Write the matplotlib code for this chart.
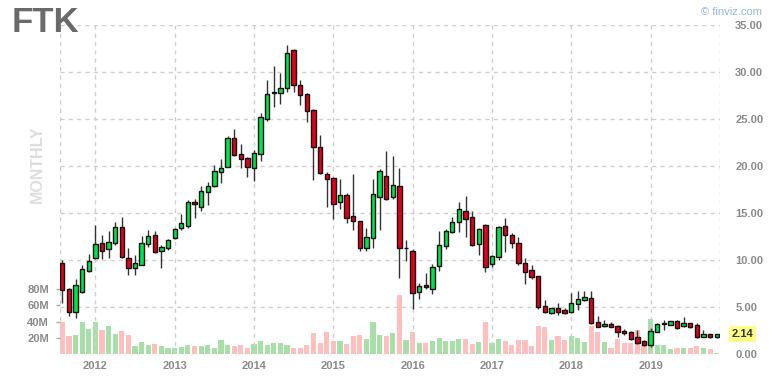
import matplotlib
matplotlib.use("Agg")
import matplotlib.pyplot as plt
import numpy as np

plt.rcParams['font.family'] = ['Liberation Sans', 'DejaVu Sans']

# monthly bars, Aug 2011 .. Nov 2019
first_year, first_month = 2011, 8

opens = [9.65, 6.9, 4.45, 6.6, 8.85, 10.2, 11.8, 11.2, 11.8, 13.5,
         10.2, 9.2, 9.5, 11.7, 12.7, 10.95, 11.25, 12.3, 13.4, 13.6,
         16.2, 15.6, 17.2, 17.9, 19.4, 19.9, 23.0, 21.3, 20.8, 19.8,
         21.3, 25.0, 27.8, 27.8, 28.3, 32.3, 28.6, 27.7, 26.0, 22.0,
         19.2, 18.7, 16.2, 16.9, 14.7, 14.15, 11.3, 12.35, 16.7, 18.9,
         16.7, 17.9, 11.3, 11.0, 6.6, 7.3, 6.9, 9.35, 11.5, 13.0,
         14.05, 15.25, 14.55, 11.7, 13.7, 9.6, 10.3, 13.6, 12.65, 11.8,
         9.65, 8.9, 8.3, 5.1, 4.35, 4.85, 4.7, 4.5, 5.3, 5.75,
         6.0, 3.4, 3.0, 3.2, 3.0, 2.45, 2.35, 1.8, 1.4, 0.95,
         2.35, 3.2, 3.1, 3.5, 3.0, 3.3, 3.1, 1.85, 2.1, 1.8]
closes = [6.8, 4.45, 7.3, 9.0, 9.9, 11.7, 11.0, 11.9, 13.5, 10.3,
          9.1, 9.65, 11.8, 12.6, 10.8, 11.4, 12.1, 13.3, 13.9, 16.2,
          15.95, 17.3, 17.9, 19.5, 19.8, 23.0, 21.2, 20.7, 19.9, 21.4,
          25.2, 27.7, 27.9, 28.3, 32.0, 28.6, 27.55, 25.85, 22.0, 19.3,
          18.6, 16.0, 16.9, 14.5, 14.15, 11.3, 12.45, 17.0, 19.5, 16.5,
          18.0, 11.3, 11.3, 6.5, 7.2, 7.1, 9.3, 11.6, 13.1, 14.05,
          15.4, 14.35, 11.6, 13.3, 9.25, 10.4, 13.5, 12.65, 11.8, 9.65,
          8.75, 8.2, 5.0, 4.5, 4.85, 4.5, 4.4, 5.4, 5.85, 6.1,
          3.3, 2.9, 3.2, 2.9, 2.35, 2.2, 1.55, 1.15, 0.95, 2.45,
          3.2, 3.3, 3.5, 2.75, 3.3, 2.85, 1.8, 2.1, 1.8, 2.14]
highs = [10.0, 7.0, 8.0, 9.5, 10.6, 13.7, 12.7, 13.1, 14.0, 14.6,
         11.3, 10.5, 12.6, 13.2, 13.1, 11.6, 12.2, 13.4, 14.9, 16.4,
         16.5, 17.9, 18.3, 20.1, 20.7, 23.2, 23.9, 22.3, 21.0, 21.7,
         25.6, 29.1, 30.6, 29.9, 32.9, 32.5, 29.1, 27.8, 26.1, 23.3,
         19.4, 18.8, 18.6, 17.1, 19.2, 14.2, 13.4, 18.6, 19.7, 21.6,
         21.1, 19.8, 12.1, 11.15, 7.55, 8.6, 9.6, 13.1, 13.3, 14.6,
         16.2, 16.8, 15.25, 13.4, 13.8, 10.5, 13.6, 14.45, 12.9, 12.4,
         10.2, 9.5, 8.3, 5.75, 4.9, 5.4, 4.85, 6.5, 6.7, 6.7,
         6.7, 4.0, 3.6, 3.4, 3.1, 2.65, 2.4, 2.55, 1.45, 2.75,
         3.3, 3.6, 3.55, 3.6, 3.95, 3.35, 3.3, 2.55, 2.15, 2.18]
lows = [5.4, 4.0, 3.8, 6.5, 8.7, 10.1, 10.1, 10.2, 11.6, 10.2,
        8.4, 8.4, 9.45, 11.4, 10.7, 9.1, 11.1, 12.2, 13.2, 13.4,
        14.5, 15.2, 15.85, 17.8, 18.2, 19.9, 21.1, 19.8, 18.8, 18.4,
        20.5, 24.8, 26.3, 26.6, 27.9, 27.9, 26.5, 24.7, 18.5, 19.15,
        15.6, 14.35, 15.4, 13.9, 13.2, 11.0, 11.0, 11.3, 13.2, 16.4,
        16.5, 8.1, 9.9, 4.8, 5.85, 6.9, 6.4, 8.85, 11.2, 12.9,
        13.0, 12.4, 11.5, 10.5, 8.7, 9.25, 10.0, 10.9, 11.25, 9.45,
        7.5, 8.0, 4.8, 4.4, 4.25, 4.15, 4.25, 4.4, 4.7, 5.65,
        3.2, 2.85, 2.9, 2.85, 1.85, 2.0, 1.5, 1.05, 0.85, 0.75,
        2.3, 2.55, 3.05, 2.7, 2.9, 2.75, 1.7, 1.8, 1.75, 1.75]
volumes = [39, 22, 23, 39, 31, 39, 30, 35, 25, 28,
           23, 10, 15, 11, 12, 10, 7, 7, 8.5, 11,
           10, 10, 11, 7, 17, 11, 10, 11, 8, 12,
           16, 11, 13, 14, 11, 7, 8, 11, 26, 13,
           27, 16, 16, 12, 22, 24, 19, 40, 23, 22,
           26, 73, 17, 27, 13, 13, 16, 20, 16, 16,
           19, 19, 12, 15, 40, 13, 19, 16, 11, 17,
           17, 10, 34, 33, 17, 22, 17, 22, 20, 15,
           34, 27, 15, 8, 19, 13, 13, 30, 11, 43,
           11, 11, 6, 8, 8, 7, 10, 7, 6, 1]  # millions

price_ticks = [0, 5, 10, 15, 20, 25, 30, 35]
vol_ticks = [20, 40, 60, 80]
years = [2012, 2013, 2014, 2015, 2016, 2017, 2018, 2019]

o = np.array(opens)
c = np.array(closes)
h = np.array(highs)
l = np.array(lows)
v = np.array(volumes)
x = np.arange(len(o))
up = c >= o

grid_kw = dict(color='#cfcfcf', lw=1, ls=(0, (3, 3)))
label_color = '#8a8a8a'

fig = plt.figure(figsize=(7.76, 3.81), dpi=100)
ax = fig.add_axes([60 / 776, 27 / 381, 660 / 776, 329 / 381])
axv = ax.twinx()
ax.set_zorder(2)
axv.set_zorder(1)
ax.patch.set_visible(False)

# volume
axv.bar(x, v, width=0.78, color=np.where(up, '#a8dfa8', '#ffbfbf'), lw=0)
axv.set_ylim(0, 405)
axv.yaxis.tick_left()
axv.set_yticks(vol_ticks)
axv.set_yticklabels(['%dM' % t for t in vol_ticks])
axv.tick_params(axis='y', length=3, width=1, color='#aaaaaa', pad=5,
                labelsize=8, labelcolor=label_color)
for t in axv.get_yticklabels():
    t.set_fontweight('bold')

# candles
ax.vlines(x, l, h, color='#333333', lw=1, zorder=3)
body_lo = np.minimum(o, c)
body_h = np.abs(c - o)
ax.bar(x, body_h, bottom=body_lo, width=0.66,
       color=np.where(up, '#00e34f', '#e3001b'),
       edgecolor='#111111', lw=1, zorder=4)

ax.set_xlim(-0.35, 99.5)
ax.set_ylim(0, 35)
for a in (ax, axv):
    for s in a.spines.values():
        s.set_visible(False)

# grid
for p in price_ticks[1:]:
    ax.axhline(p, zorder=1, **grid_kw)
jan_idx = [(yr - first_year) * 12 + 1 - first_month for yr in years]
for i in jan_idx:
    ax.axvline(i, zorder=1, **grid_kw)
ax.axvline(-0.35, zorder=1, **grid_kw)
ax.axvline(99.5, zorder=1, **grid_kw)

ax.yaxis.tick_right()
ax.set_yticks(price_ticks)
ax.set_yticklabels(['%.2f' % p for p in price_ticks])
ax.tick_params(axis='y', length=0, pad=11, labelsize=8, labelcolor=label_color)
ax.set_xticks(jan_idx)
ax.set_xticklabels([str(y) for y in years])
ax.tick_params(axis='x', length=0, pad=5, labelsize=8, labelcolor=label_color)
for t in ax.get_yticklabels() + ax.get_xticklabels():
    t.set_fontweight('bold')

# last price tag
ax.annotate('%.2f' % closes[-1], xy=(1, closes[-1]),
            xycoords=('axes fraction', 'data'), xytext=(8.5, 0),
            textcoords='offset points', ha='left', va='center',
            fontsize=8, fontweight='bold', color='#333333',
            bbox=dict(boxstyle='square,pad=0.25', fc='#ffff88', ec='none'),
            annotation_clip=False)

fig.text(12 / 776, 1 - 22 / 381, 'FTK', fontsize=25, fontweight='bold',
         color='#6a6a6a', va='center', ha='left')
fig.text(37 / 776, 1 - 164 / 381, 'MONTHLY', fontsize=11.5, fontweight='bold',
         color='#dddddd', rotation=90, va='center', ha='center')
fig.text(762 / 776, 1 - 12 / 381, '\u00a9 finviz.com', fontsize=8,
         color='#8fb8dd', va='center', ha='right')

fig.savefig('out.png', dpi=100)
